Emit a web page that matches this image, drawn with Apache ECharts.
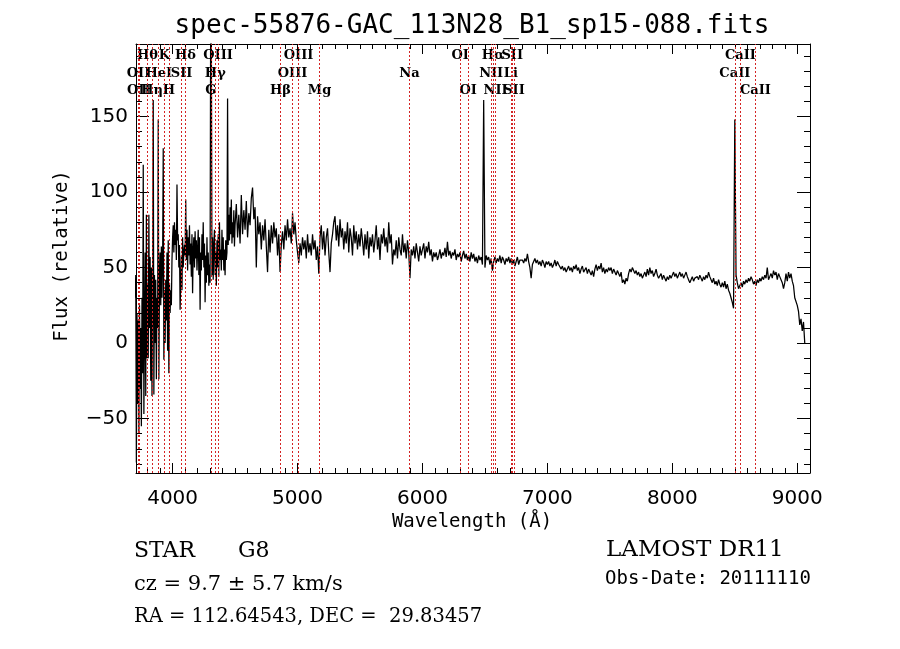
<!DOCTYPE html>
<html><head><meta charset="utf-8">
<script src="https://cdn.jsdelivr.net/npm/echarts@6/dist/echarts.min.js"></script>
<style>html,body{margin:0;padding:0;background:#fff}#c{width:900px;height:649px}</style>
</head><body><div id="c"></div>
<script>
const titleText = 'spec-55876-GAC_113N28_B1_sp15-088.fits';
const xName = 'Wavelength (Å)';
const yName = 'Flux (relative)';
const xTickLabels = [4000, 5000, 6000, 7000, 8000, 9000];
const yTickLabels = [-50, 0, 50, 100, 150];
const xRange = [3707, 9102];
const yRange = [-86, 198];

// blue part of spectrum: 3700..4495 A every 5 A
const blueStart = 3700, blueStep = 5;
const blueFlux = [
  30, 45, -79, 20, -40, 15, -60, 25, -30, 10, -55, 30, -20, 118, -47, 5, 60, -35, 85, -10,
  40, -10, 85, 10, 57, -25, 50, -35, 30, 161, -34, 45, 0, 42, -24, 30, 10, 148, -24, 40,
  60, 25, 64, 30, 55, 129, -11, 35, 0, 42, 15, 60, -5, 68, -20, 40, 20, 35, 25, 55,
  70, 78, 60, 80, 65, 75, 55, 105, 68, 72, 50, 65, 22, 40, 58, 35, 70, 50, 60, 65,
  58, 95, 55, 75, 48, 70, 58, 78, 52, 66, 44, 72, 33, 62, 70, 50, 74, 56, 68, 48,
  62, 75, 45, 70, 22, 60, 48, 72, 55, 80, 50, 66, 27, 58, 40, 70, 45, 60, 38, 52,
  40, 230, 210, 45, 70, 42, 65, 75, 45, 60, 38, 68, 50, 72, 44, 80, 55, 62, 48, 75,
  55, 70, 48, 62, 45, 68, 55, 60, 162, 65, 85, 68, 90, 72, 95, 66, 80, 70, 88, 64
];
// red part of spectrum: 4500..9060 A every 10 A
const redStart = 4500, redStep = 10;
const redFlux = [
  78, 92, 70, 85, 66, 98, 72, 88, 75, 94,
  70, 86, 78, 96, 103, 82, 90, 50, 84, 72,
  80, 62, 78, 68, 82, 64, 47, 75, 60, 78,
  66, 80, 70, 76, 58, 72, 47, 65, 74, 62,
  78, 68, 82, 70, 76, 66, 86, 72, 80, 68,
  60, 53, 66, 58, 70, 62, 68, 56, 72, 60,
  66, 58, 72, 62, 68, 55, 64, 46, 70, 78,
  62, 74, 58, 70, 76, 60, 47, 66, 72, 80,
  84, 68, 78, 64, 82, 70, 76, 62, 74, 66,
  80, 60, 76, 70, 58, 78, 66, 74, 62, 72,
  64, 76, 68, 58, 72, 62, 74, 56, 70, 64,
  72, 60, 68, 78, 62, 70, 55, 72, 66, 76,
  64, 70, 60, 80, 66, 72, 52, 62, 58, 68,
  56, 70, 62, 58, 72, 60, 66, 56, 68, 60,
  43, 62, 58, 64, 56, 66, 60, 54, 64, 58,
  62, 66, 56, 64, 60, 67, 58, 62, 54, 60,
  57, 60, 55, 58, 62, 56, 60, 58, 63, 57,
  67, 58, 61, 56, 60, 58, 62, 55, 59, 57,
  60, 54, 58, 61, 56, 59, 55, 58, 54, 60,
  56, 59, 54, 57, 53, 58, 55, 57, 52, 161,
  50, 58, 55, 57, 52, 56, 48, 54, 57, 53,
  56, 54, 58, 53, 57, 55, 52, 56, 54, 57,
  53, 56, 52, 55, 51, 54, 57, 52, 55, 56,
  55, 53, 56, 54, 59, 54, 50, 43, 52, 54,
  56, 53, 55, 52, 54, 51, 55, 53, 50, 54,
  52, 54, 51, 53, 50, 52, 55, 51, 54, 52,
  53, 49, 51, 48, 50, 47, 49, 51, 48, 50,
  47, 51, 49, 52, 48, 50, 46, 49, 51, 47,
  48, 50, 46, 49, 47, 45, 48, 44, 49, 52,
  48, 51, 49, 53, 47, 50, 46, 49, 47, 50,
  48, 50, 46, 49, 47, 45, 48, 46, 44, 47,
  40, 42, 39, 43, 41, 46, 49, 47, 50, 48,
  46, 48, 45, 47, 44, 46, 43, 45, 47, 44,
  49, 45, 50, 46, 48, 44, 46, 49, 45, 43,
  44, 46, 42, 45, 43, 41, 44, 42, 45, 43,
  45, 47, 44, 46, 43, 45, 47, 44, 46, 43,
  45, 47, 44, 42, 40, 42, 44, 41, 43, 42,
  44, 42, 45, 43, 41, 44, 42, 45, 43, 47,
  44, 42, 40, 43, 39, 41, 38, 42, 39, 37,
  40, 37, 41, 36, 39, 35, 33, 30, 27, 23,
  148, 45, 40, 36, 38, 40, 37, 41, 39, 42,
  40, 43, 41, 44, 42, 39, 41, 38, 42, 40,
  43, 41, 44, 42, 45, 43, 50, 42, 44, 46,
  43, 48, 45, 47, 42, 46, 44, 42, 40, 36,
  40, 46, 41, 47, 43, 46, 41, 38, 30, 29,
  25, 21, 12, 16, 8, 14, 0
];

// spectral line markers
const lineNames = ['Hθ','K','Hδ','OIII','OIII','OI','Hα','SII','CaII',
                   'OII','HeI','SII','Hγ','OIII','Na','NII','Li','CaII',
                   'OII','Hη','H','G','Hβ','Mg','OI','NII','SII','CaII'];
const lineWaves = [3798.98, 3934.78, 4102.89, 4364.44, 5008.24, 6302.05, 6564.61, 6718.29, 8544.44,
                   3727.09, 3889.0, 4072.3, 4341.68, 4960.3, 5895.6, 6549.86, 6707.8, 8500.36,
                   3729.88, 3836.47, 3969.59, 4305.61, 4862.68, 5176.7, 6365.54, 6585.27, 6732.67, 8664.52];
const lineRows = [0,0,0,0,0,0,0,0,0, 1,1,1,1,1,1,1,1,1, 2,2,2,2,2,2,2,2,2,2];

const spectrum = [];
blueFlux.forEach((f, i) => spectrum.push([blueStart + i * blueStep, f]));
redFlux.forEach((f, i) => spectrum.push([redStart + i * redStep, f]));

const xMinor = []; for (let v = 3800; v <= 9100; v += 100) xMinor.push(v);
const yMinor = []; for (let v = -80; v <= 190; v += 10) yMinor.push(v);

const BLACK = '#000';
function xAx(pos, vals, len, showLine, showLabel) {
  return {
    type: 'value', position: pos, min: xRange[0], max: xRange[1],
    axisLine: { show: showLine, onZero: false, lineStyle: { color: BLACK, width: 1 } },
    axisTick: { show: true, inside: true, length: len, customValues: vals, lineStyle: { color: BLACK, width: 1 } },
    axisLabel: showLabel ? { show: true, customValues: vals, margin: 16, color: BLACK,
      fontFamily: 'DejaVu Sans', fontSize: 20, formatter: v => String(v) } : { show: false },
    splitLine: { show: false }, minorTick: { show: false }
  };
}
function yAx(pos, vals, len, showLine, showLabel) {
  return {
    type: 'value', position: pos, min: yRange[0], max: yRange[1],
    axisLine: { show: showLine, onZero: false, lineStyle: { color: BLACK, width: 1 } },
    axisTick: { show: true, inside: true, length: len, customValues: vals, lineStyle: { color: BLACK, width: 1 } },
    axisLabel: showLabel ? { show: true, customValues: vals, margin: 8, color: BLACK,
      fontFamily: 'DejaVu Sans', fontSize: 20,
      formatter: v => (v < 0 ? '\u2212' + Math.abs(v) : String(v)) } : { show: false },
    splitLine: { show: false }, minorTick: { show: false }
  };
}

const chart = echarts.init(document.getElementById('c'), null, { renderer: 'canvas' });
chart.setOption({
  animation: false,
  backgroundColor: '#fff',
  grid: { left: 136, right: 90, top: 44, bottom: 176, containLabel: false },
  xAxis: [
    xAx('bottom', xTickLabels, 10, true, true),
    xAx('bottom', xMinor, 5, false, false),
    xAx('top', xTickLabels, 10, true, false),
    xAx('top', xMinor, 5, false, false)
  ],
  yAxis: [
    yAx('left', yTickLabels, 13, true, true),
    yAx('left', yMinor, 6, false, false),
    yAx('right', yTickLabels, 13, true, false),
    yAx('right', yMinor, 6, false, false)
  ],
  series: [{
    type: 'line', xAxisIndex: 0, yAxisIndex: 0, data: spectrum,
    showSymbol: false, symbol: 'none', clip: true,
    lineStyle: { color: BLACK, width: 1.25 },
    markLine: {
      silent: true, symbol: ['none', 'none'], animation: false,
      label: { show: false },
      lineStyle: { color: '#d42424', type: [2, 2], width: 1 },
      data: lineWaves.map(w => ({ xAxis: w }))
    }
  }]
});

const rowY = [56, 74, 91];
const g = [];
lineNames.forEach((n, i) => {
  g.push({ type: 'text', x: chart.convertToPixel({ xAxisIndex: 0 }, lineWaves[i]), y: rowY[lineRows[i]],
    style: { text: n, fontFamily: 'DejaVu Serif', fontSize: 13, fontWeight: 'bold', fill: BLACK, align: 'center', verticalAlign: 'middle' } });
});
g.push({ type: 'text', x: 472, y: 26, style: { text: titleText, fontFamily: 'DejaVu Sans Mono', fontSize: 26, fill: BLACK, align: 'center', verticalAlign: 'middle' } });
g.push({ type: 'text', x: 472, y: 522, style: { text: xName, fontFamily: 'DejaVu Sans Mono', fontSize: 19, fill: BLACK, align: 'center', verticalAlign: 'middle' } });
g.push({ type: 'text', x: 62, y: 256, rotation: Math.PI / 2, style: { text: yName, fontFamily: 'DejaVu Sans Mono', fontSize: 19, fill: BLACK, align: 'center', verticalAlign: 'middle' } });
g.push({ type: 'text', x: 134, y: 551, style: { text: 'STAR', fontFamily: 'DejaVu Serif', fontSize: 22, fill: BLACK, align: 'left', verticalAlign: 'middle' } });
g.push({ type: 'text', x: 238, y: 551, style: { text: 'G8', fontFamily: 'DejaVu Serif', fontSize: 22, fill: BLACK, align: 'left', verticalAlign: 'middle' } });
g.push({ type: 'text', x: 134, y: 585, style: { text: 'cz = 9.7 ± 5.7 km/s', fontFamily: 'DejaVu Serif', fontSize: 21, fill: BLACK, align: 'left', verticalAlign: 'middle' } });
g.push({ type: 'text', x: 134, y: 617, style: { text: 'RA = 112.64543, DEC =  29.83457', fontFamily: 'DejaVu Serif', fontSize: 19.5, fill: BLACK, align: 'left', verticalAlign: 'middle' } });
g.push({ type: 'text', x: 606, y: 550, style: { text: 'LAMOST DR11', fontFamily: 'DejaVu Serif', fontSize: 23, fill: BLACK, align: 'left', verticalAlign: 'middle' } });
g.push({ type: 'text', x: 605, y: 579, style: { text: 'Obs-Date: 20111110', fontFamily: 'DejaVu Sans Mono', fontSize: 19, fill: BLACK, align: 'left', verticalAlign: 'middle' } });
chart.setOption({ graphic: g });
</script>
</body></html>
